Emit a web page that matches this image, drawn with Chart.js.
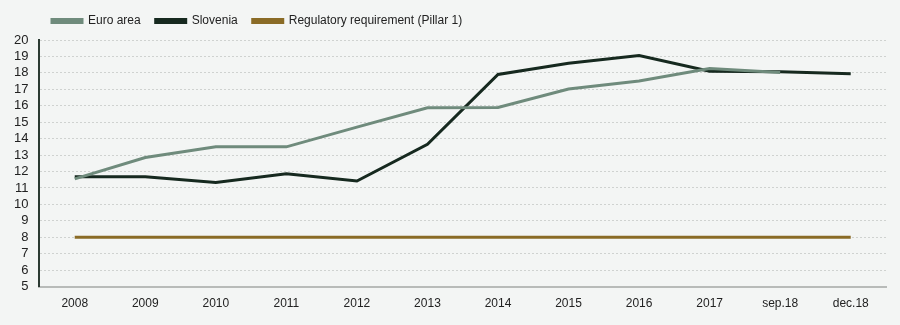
<!DOCTYPE html>
<html>
<head>
<meta charset="utf-8">
<script src="https://cdn.jsdelivr.net/npm/chart.js@4.4.1/dist/chart.umd.min.js"></script>
<style>
    html, body { margin: 0; padding: 0; background: #f3f5f4; }
    #wrap { width: 900px; height: 325px; position: relative; }
</style>
</head>
<body>
<div id="wrap"><canvas id="capital-chart"></canvas></div>
<script>
// Data
const categories = ['2008', '2009', '2010', '2011', '2012', '2013', '2014', '2015', '2016', '2017', 'sep.18', 'dec.18'];
const euroArea = [11.55, 12.85, 13.5, 13.5, 14.7, 15.88, 15.9, 17.02, 17.5, 18.27, 18.03, null];
const slovenia = [11.68, 11.68, 11.33, 11.86, 11.42, 13.65, 17.9, 18.58, 19.06, 18.1, 18.07, 17.94];
const pillar1 = [8, 8, 8, 8, 8, 8, 8, 8, 8, 8, 8, 8];
const yTicks = [5, 6, 7, 8, 9, 10, 11, 12, 13, 14, 15, 16, 17, 18, 19, 20];

const fontFamily = "'Liberation Sans Narrow', 'Arial Narrow', 'Liberation Sans', Arial, sans-serif";

// pomakni legendu udesno i gore, kao u izvorniku
const legendShift = {
    id: 'legendShift',
    afterLayout(chart) {
        if (chart.legend) {
            chart.legend.left += 34;
            chart.legend.right += 34;
            chart.legend.top -= 3;
            chart.legend.bottom -= 3;
        }
    }
};

document.addEventListener('DOMContentLoaded', function() {
    const ctx = document.getElementById('capital-chart').getContext('2d');
    new Chart(ctx, {
        type: 'line',
        data: {
            labels: categories,
            datasets: [
                {
                    label: 'Euro area',
                    data: euroArea,
                    borderColor: '#6f8b7c',
                    backgroundColor: '#6f8b7c',
                    borderWidth: 3,
                    pointRadius: 0,
                    tension: 0
                },
                {
                    label: 'Slovenia',
                    data: slovenia,
                    borderColor: '#16291f',
                    backgroundColor: '#16291f',
                    borderWidth: 3,
                    pointRadius: 0,
                    tension: 0
                },
                {
                    label: 'Regulatory requirement (Pillar 1)',
                    data: pillar1,
                    borderColor: '#8a6b26',
                    backgroundColor: '#8a6b26',
                    borderWidth: 3,
                    pointRadius: 0,
                    tension: 0
                }
            ]
        },
        plugins: [legendShift],
        options: {
            responsive: true,
            maintainAspectRatio: false,
            animation: false,
            layout: {
                padding: { left: 3, right: 14, top: 3, bottom: 12 }
            },
            plugins: {
                legend: {
                    position: 'top',
                    align: 'start',
                    labels: {
                        boxWidth: 30,
                        boxHeight: 3,
                        padding: 15,
                        color: '#222',
                        font: { family: fontFamily, size: 12 }
                    }
                },
                tooltip: { enabled: false }
            },
            scales: {
                x: {
                    offset: true,
                    grid: { display: false },
                    border: { color: '#b8bbb9', width: 2 },
                    ticks: {
                        color: '#222',
                        padding: 2,
                        maxRotation: 0,
                        autoSkip: false,
                        font: { family: fontFamily, size: 12 }
                    }
                },
                y: {
                    min: 5,
                    max: 20,
                    afterBuildTicks: function(axis) {
                        axis.ticks = yTicks.map(v => ({ value: v }));
                    },
                    grid: {
                        color: '#cfd2d0',
                        drawTicks: false
                    },
                    border: { color: '#2b3a32', width: 2, dash: [2, 2] },
                    ticks: {
                        color: '#222',
                        padding: 11,
                        autoSkip: false,
                        font: { family: fontFamily, size: 13 }
                    }
                }
            }
        }
    });
});
</script>
</body>
</html>
